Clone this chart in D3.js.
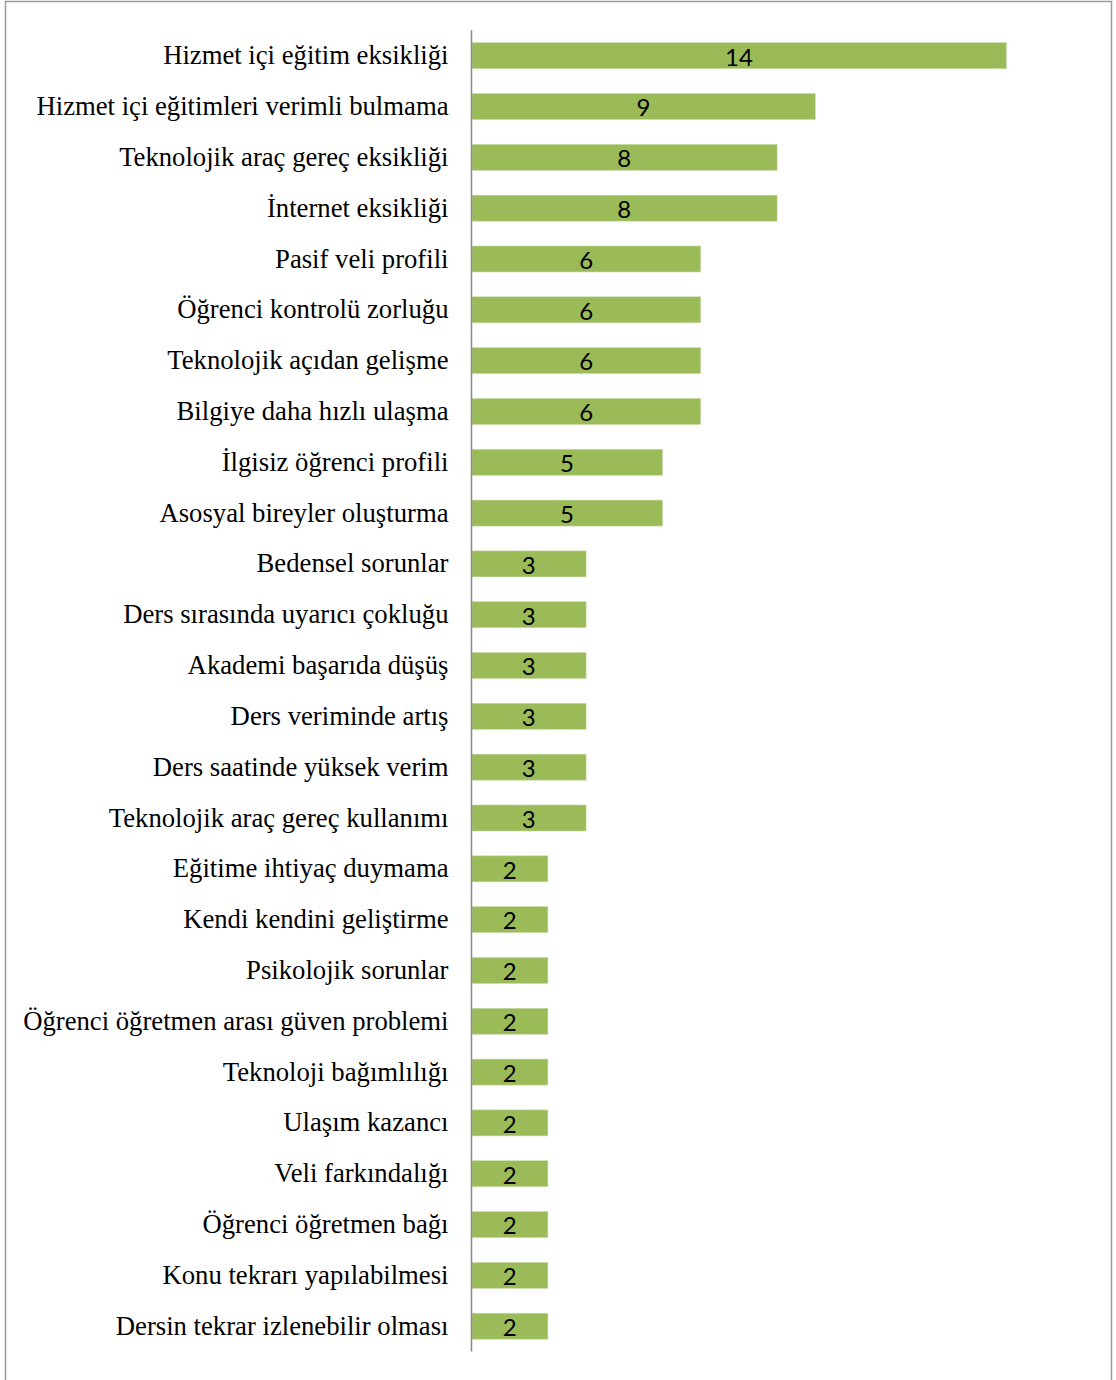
<!DOCTYPE html>
<html>
<head>
<meta charset="utf-8">
<script src="https://cdn.jsdelivr.net/npm/d3@7"></script>
<style>
  html, body { margin: 0; padding: 0; background: #fff; }
  svg { display: block; }
</style>
</head>
<body>
<svg id="chart" width="1116" height="1380"></svg>
<script>
// Categories (top to bottom) and their counts
const categories = [
  "Hizmet içi eğitim eksikliği",
  "Hizmet içi eğitimleri verimli bulmama",
  "Teknolojik araç gereç eksikliği",
  "İnternet eksikliği",
  "Pasif veli profili",
  "Öğrenci kontrolü zorluğu",
  "Teknolojik açıdan gelişme",
  "Bilgiye daha hızlı ulaşma",
  "İlgisiz öğrenci profili",
  "Asosyal bireyler oluşturma",
  "Bedensel sorunlar",
  "Ders sırasında uyarıcı çokluğu",
  "Akademi başarıda düşüş",
  "Ders veriminde artış",
  "Ders saatinde yüksek verim",
  "Teknolojik araç gereç kullanımı",
  "Eğitime ihtiyaç duymama",
  "Kendi kendini geliştirme",
  "Psikolojik sorunlar",
  "Öğrenci öğretmen arası güven problemi",
  "Teknoloji bağımlılığı",
  "Ulaşım kazancı",
  "Veli farkındalığı",
  "Öğrenci öğretmen bağı",
  "Konu tekrarı yapılabilmesi",
  "Dersin tekrar izlenebilir olması"
];
const counts = [14, 9, 8, 8, 6, 6, 6, 6, 5, 5, 3, 3, 3, 3, 3, 3, 2, 2, 2, 2, 2, 2, 2, 2, 2, 2];
const xDomain = [0, 15];

const data = categories.map((c, i) => ({ category: c, value: counts[i] }));

const svg = d3.select("#chart");

// outer frame
svg.append("rect")
  .attr("x", 5.5).attr("y", 1.5)
  .attr("width", 1106).attr("height", 1400)
  .attr("fill", "none")
  .attr("stroke", "#9a9a9a")
  .attr("stroke-width", 1.5);

const plot = { left: 471.5, top: 30.3, bottom: 1351.6 };

const x = d3.scaleLinear().domain(xDomain).range([plot.left, plot.left + 38.2 * xDomain[1]]);
const y = d3.scaleBand()
  .domain(categories)
  .range([plot.top, plot.bottom])
  .paddingInner(0.488)
  .paddingOuter(0.244);

// bars
svg.append("g")
  .selectAll("rect")
  .data(data)
  .join("rect")
  .attr("x", x(0) + 0.5)
  .attr("y", d => y(d.category))
  .attr("width", d => x(d.value) - x(0) - 0.5)
  .attr("height", y.bandwidth())
  .attr("fill", "#9bbb59")
  .attr("stroke", "#c9dcaa")
  .attr("stroke-width", 0.6);

// value labels
svg.append("g")
  .selectAll("text")
  .data(data)
  .join("text")
  .attr("x", d => (x(0) + x(d.value)) / 2)
  .attr("y", d => y(d.category) + y.bandwidth() / 2)
  .attr("dy", "0.41em")
  .attr("text-anchor", "middle")
  .attr("font-family", "Lato, 'Open Sans', sans-serif")
  .attr("font-size", 24)
  .attr("fill", "#000")
  .text(d => d.value);

// category axis
const yAxis = d3.axisLeft(y).tickSize(0).tickPadding(23);
const gy = svg.append("g")
  .attr("transform", `translate(${plot.left},0)`)
  .call(yAxis);
gy.select(".domain").remove();
gy.selectAll("text")
  .attr("font-family", "'Liberation Serif', 'Times New Roman', serif")
  .attr("font-size", 26.7)
  .attr("dy", "0.32em")
  .attr("fill", "#000");

svg.append("line")
  .attr("x1", plot.left).attr("x2", plot.left)
  .attr("y1", plot.top).attr("y2", plot.bottom)
  .attr("stroke", "#888")
  .attr("stroke-width", 1.5);
</script>
</body>
</html>
